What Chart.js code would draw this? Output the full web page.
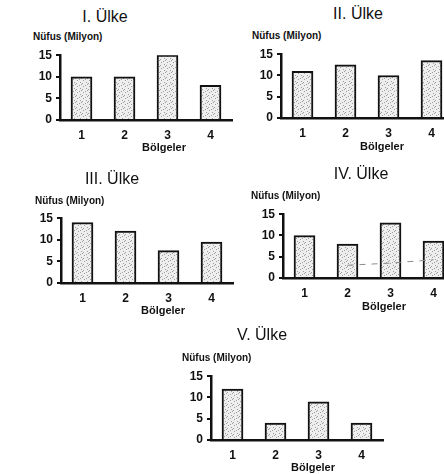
<!DOCTYPE html>
<html lang="tr">
<head>
<meta charset="utf-8">
<script src="https://cdn.jsdelivr.net/npm/chart.js@4/dist/chart.umd.min.js"></script>
<style>
    html, body { margin: 0; padding: 0; background: #fff; }
    body { width: 444px; height: 474px; position: relative; overflow: hidden;
           font-family: 'Liberation Sans', Arial, sans-serif; color: #111; }
    canvas { position: absolute; }
    .title { position: absolute; font-size: 16px; transform: translate(-50%, -50%); white-space: nowrap; }
    .ylab  { position: absolute; font-size: 10px; font-weight: bold; transform: translateY(-50%); white-space: nowrap; }
    .xlab  { position: absolute; font-size: 11px; font-weight: bold; transform: translate(-50%, -50%); white-space: nowrap; }
</style>
</head>
<body>
<script>
// ── Veriler ──────────────────────────────────────────────────────────────────

const REGIONS = ['1', '2', '3', '4'];
const COUNTRIES = ['I. Ülke', 'II. Ülke', 'III. Ülke', 'IV. Ülke', 'V. Ülke'];
const Y_TITLE = 'Nüfus (Milyon)';
const X_TITLE = 'Bölgeler';
const Y_TICKS = [0, 5, 10, 15];

const POP_I   = [10, 10, 15, 8];
const POP_II  = [11, 12.5, 10, 13.5];
const POP_III = [14, 12, 7.5, 9.5];
const POP_IV  = [10, 8, 13, 8.7];
const POP_V   = [12, 4, 9, 4];

// faint dashed stroke crossing the IV. chart (scan trace)
const TRACE_IV = [null, 3, 3.5, 4.3];

// ── Yerleşim (chart area: left, top=15, bottom=0) ───────────────────────────

const LAYOUT = [
    { left: 60,  top: 54,  bottom: 120, title: [105, 17],  ylab: [33, 36],   xlab: [164, 147] },
    { left: 281, top: 53,  bottom: 118, title: [358, 14],  ylab: [252, 35],  xlab: [382, 146] },
    { left: 61,  top: 217, bottom: 283, title: [112, 179], ylab: [35, 200],  xlab: [163, 310] },
    { left: 283, top: 213, bottom: 278, title: [361, 174], ylab: [251, 195], xlab: [384, 306] },
    { left: 211, top: 375, bottom: 440, title: [262, 335], ylab: [182, 357], xlab: [313, 467] },
];

const CAT_W = 43;
const Y_AXIS_W = 32;
const X_AXIS_H = 24;
const PAD_TOP = 10;
const PAD_RIGHT = 4;
const FONT = "'Liberation Sans', Arial, sans-serif";
const INK = '#111';

function stipple() {
    const c = document.createElement('canvas');
    c.width = 6; c.height = 6;
    const g = c.getContext('2d');
    g.fillStyle = '#eeeeee';
    g.fillRect(0, 0, 6, 6);
    g.fillStyle = '#9e9e9e';
    [[1, 0], [4, 2], [0, 3], [3, 5], [5, 4]].forEach(([x, y]) => g.fillRect(x, y, 1, 1));
    return g.createPattern(c, 'repeat');
}

function addText(cls, text, [x, y]) {
    const el = document.createElement('div');
    el.className = cls;
    el.textContent = text;
    el.style.left = x + 'px';
    el.style.top = y + 'px';
    document.body.appendChild(el);
}

function makeChart(idx, values, extra) {
    const L = LAYOUT[idx];
    const cv = document.createElement('canvas');
    const w = Y_AXIS_W + CAT_W * REGIONS.length + PAD_RIGHT;
    const h = PAD_TOP + (L.bottom - L.top) + X_AXIS_H;
    cv.width = w; cv.height = h;
    cv.style.left = (L.left - Y_AXIS_W) + 'px';
    cv.style.top = (L.top - PAD_TOP) + 'px';
    document.body.appendChild(cv);

    addText('title', COUNTRIES[idx], L.title);
    addText('ylab', Y_TITLE, L.ylab);
    addText('xlab', X_TITLE, L.xlab);

    const datasets = [{
        type: 'bar',
        data: values,
        backgroundColor: stipple(),
        borderColor: INK,
        borderWidth: 2,
        barThickness: 21,
        order: 1,
    }];
    if (extra) datasets.push(extra);

    return new Chart(cv, {
        type: 'bar',
        data: { labels: REGIONS, datasets },
        options: {
            responsive: false,
            animation: false,
            layout: { padding: { top: PAD_TOP, right: PAD_RIGHT, left: 0, bottom: 0 } },
            plugins: { legend: { display: false }, tooltip: { enabled: false } },
            scales: {
                x: {
                    ticks: { color: INK, padding: 8, font: { family: FONT, size: 12, weight: 'bold' } },
                    grid: { display: false, drawTicks: false },
                    border: { color: INK, width: 2.5 },
                    afterFit: s => { s.height = X_AXIS_H; },
                },
                y: {
                    min: 0,
                    max: 15,
                    afterBuildTicks: s => { s.ticks = Y_TICKS.map(v => ({ value: v })); },
                    ticks: { color: INK, padding: 4, font: { family: FONT, size: 12, weight: 'bold' } },
                    grid: { drawOnChartArea: false, tickLength: 4, color: INK, lineWidth: 2 },
                    border: { color: INK, width: 2.5 },
                    afterFit: s => { s.width = Y_AXIS_W; },
                },
            },
        },
    });
}

makeChart(0, POP_I);
makeChart(1, POP_II);
makeChart(2, POP_III);
makeChart(3, POP_IV, {
    type: 'line',
    data: TRACE_IV,
    borderColor: '#8a8a8a',
    borderWidth: 1,
    borderDash: [6, 6],
    pointRadius: 0,
    order: 0,
});
makeChart(4, POP_V);
</script>
</body>
</html>
